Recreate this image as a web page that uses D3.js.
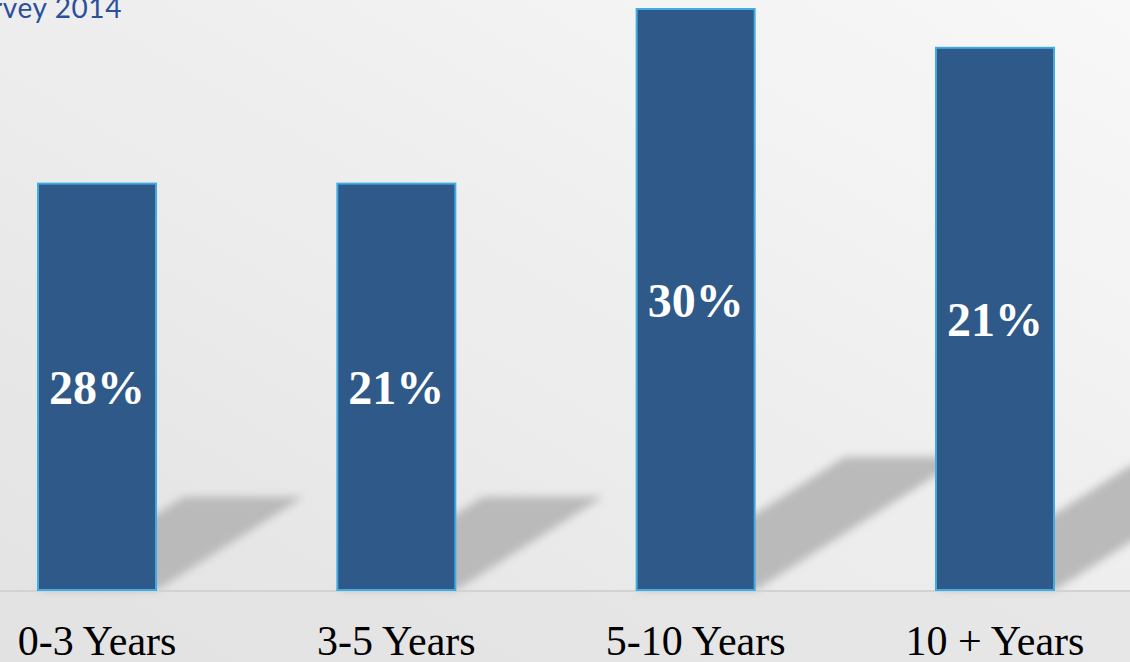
<!DOCTYPE html>
<html>
<head>
<meta charset="utf-8">
<script src="https://cdn.jsdelivr.net/npm/d3@7"></script>
<style>
  html, body { margin: 0; padding: 0; overflow: hidden; }
  svg { display: block; }
</style>
</head>
<body>
<svg id="chart" width="1130" height="662"></svg>
<script>
// data
const categories = ["0-3 Years", "3-5 Years", "5-10 Years", "10 + Years"];
const barValues = [21, 21, 30, 28];          // bar heights as drawn
const barLabels = ["28%", "21%", "30%", "21%"]; // text printed in the bars
const titleText = "Survey 2014";

const width = 1130, height = 662;
const svg = d3.select("#chart");

const x = d3.scaleBand().domain(categories)
    .range([37, 1055])
    .paddingInner(0.599)
    .paddingOuter(0);
const y = d3.scaleLinear().domain([0, 30]).range([590, 8]);

// background
const defs = svg.append("defs");
const bg = defs.append("linearGradient").attr("id", "bg")
    .attr("x1", "100%").attr("y1", "0%").attr("x2", "0%").attr("y2", "100%");
bg.append("stop").attr("offset", "0%").attr("stop-color", "#f8f8f8");
bg.append("stop").attr("offset", "60%").attr("stop-color", "#ebebeb");
bg.append("stop").attr("offset", "100%").attr("stop-color", "#e2e2e2");
defs.append("filter").attr("id", "blur")
    .attr("x", "-20%").attr("y", "-20%").attr("width", "140%").attr("height", "140%")
    .append("feGaussianBlur").attr("stdDeviation", 4);

svg.append("rect").attr("width", width).attr("height", height).attr("fill", "url(#bg)");
svg.append("rect").attr("x", 0).attr("y", 591).attr("width", width).attr("height", height - 591)
    .attr("fill", "#e2e2e2").attr("opacity", 0.6);

// shadows - bar swept up and to the right, length follows bar height
const gShadow = svg.append("g").attr("filter", "url(#blur)");
gShadow.selectAll("path")
    .data(barValues)
    .enter()
    .append("path")
    .attr("fill", "#bababa")
    .attr("d", (d, i) => {
        let h = y(0) - y(d);
        let dx = h * 0.36, dy = h * 0.229;
        let x0 = x(categories[i]), x1 = x0 + x.bandwidth(), b = y(0);
        return `M${x0},${b}L${x1},${b}L${x1 + dx},${b - dy}L${x0 + dx},${b - dy}Z`;
    });

// baseline
svg.append("line").attr("x1", 0).attr("x2", width)
    .attr("y1", 591).attr("y2", 591)
    .attr("stroke", "#d2d2d2").attr("stroke-width", 2);

// bars
svg.append("g").selectAll("rect")
    .data(barValues)
    .enter()
    .append("rect")
    .attr("x", (d, i) => x(categories[i]) + 1)
    .attr("y", d => y(d) + 1)
    .attr("width", x.bandwidth() - 2)
    .attr("height", d => y(0) - y(d) - 1)
    .attr("fill", "#2f5989")
    .attr("stroke", "#41ace3")
    .attr("stroke-width", 2);

// labels inside bars
svg.append("g").selectAll("text")
    .data(barValues)
    .enter()
    .append("text")
    .attr("x", (d, i) => x(categories[i]) + x.bandwidth() / 2)
    .attr("y", d => (y(d) + y(0)) / 2 + 18)
    .attr("text-anchor", "middle")
    .attr("fill", "#ffffff")
    .style("font-family", "'Times New Roman', 'Liberation Serif', serif")
    .style("font-weight", "bold")
    .style("font-size", "48px")
    .text((d, i) => barLabels[i]);

// category axis
const xAxis = d3.axisBottom(x).tickSize(0).tickPadding(0);
const gx = svg.append("g").attr("transform", "translate(0,620)").call(xAxis);
gx.select(".domain").remove();
gx.selectAll("text")
    .attr("dy", "0.83em")
    .attr("fill", "#000")
    .style("font-family", "'Times New Roman', 'Liberation Serif', serif")
    .style("font-size", "42px");

// title, cut off at the left edge
svg.append("text")
    .attr("x", 122).attr("y", 18)
    .attr("text-anchor", "end")
    .attr("fill", "#2b4f9c")
    .style("font-family", "Lato, 'Open Sans', sans-serif")
    .style("font-size", "28px")
    .style("letter-spacing", "0.6px")
    .text(titleText);
</script>
</body>
</html>
